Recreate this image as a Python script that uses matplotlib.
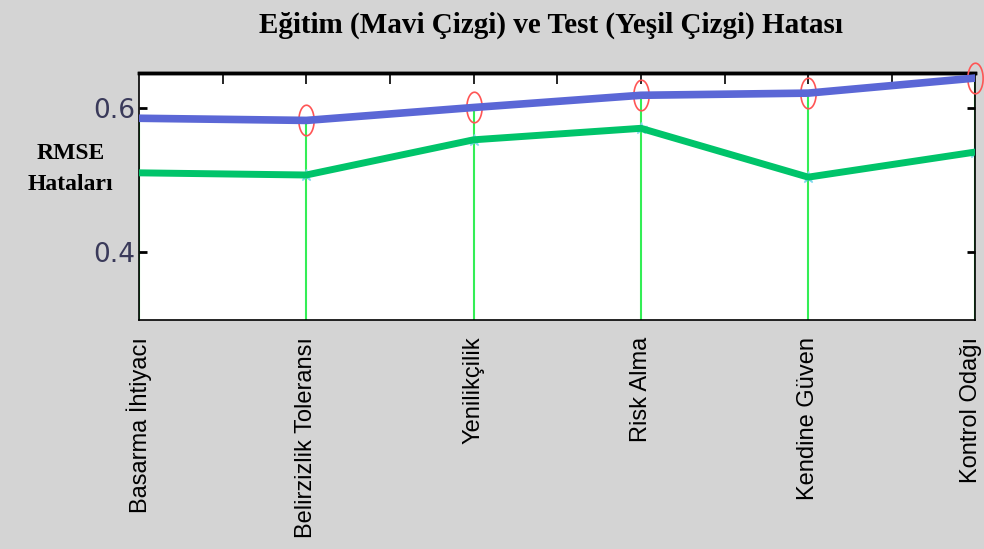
import matplotlib.pyplot as plt
import matplotlib.transforms as mtransforms
import numpy as np

# data
categories = ['Basarma İhtiyacı', 'Belirzizlik Toleransı', 'Yenilikçilik',
              'Risk Alma', 'Kendine Güven', 'Kontrol Odağı']
train_err = [0.586, 0.583, 0.601, 0.618, 0.621, 0.642]
test_err = [0.510, 0.507, 0.556, 0.572, 0.504, 0.539]

bg = '#d4d4d4'
fig = plt.figure(figsize=(9.84, 5.49), dpi=100, facecolor=bg)
ax = fig.add_axes([0.1413, 0.417, 0.850, 0.450])
ax.set_facecolor('white')

x = np.arange(len(categories))

# tall ellipse marker like the red circles
t = np.linspace(0, 2 * np.pi, 40)
ellipse = np.column_stack([0.5 * np.cos(t), np.sin(t)])

# green stems under the points
ax.vlines(x, 0.3, train_err, colors='#33ee55', linewidth=1.5, zorder=1)

ax.plot(x, test_err, color='#00c46a', linewidth=5, zorder=3, solid_capstyle='round')
ax.plot(x[1:], test_err[1:], linestyle='none', marker='*', markersize=9,
        color='#7fd8ee', zorder=2)
ax.plot(x, train_err, color='#5b67d6', linewidth=5.5, zorder=4)
ax.plot(x[1:], train_err[1:], linestyle='none', marker=ellipse, markersize=22,
        markerfacecolor='none', markeredgecolor='#ff5555', markeredgewidth=1.2,
        zorder=3, clip_on=False)

ax.set_xlim(0, 5)
ax.set_ylim(0.305, 0.649)

ax.set_yticks([0.4, 0.6])
ax.set_yticklabels(['0.4', '0.6'], fontsize=19, color='#3a3a5a',
                   family=['DejaVu Sans Condensed', 'DejaVu Sans'])
ax.tick_params(axis='y', direction='in', length=6, width=2, right=True, pad=3)

ax.set_xticks(x)
ax.set_xticklabels(categories, rotation=90, fontsize=17,
                   family=['Liberation Sans', 'DejaVu Sans'], va='top')
ax.tick_params(axis='x', direction='in', length=0, pad=12)
# last label sits at the figure edge, nudge it in a bit
last = ax.get_xticklabels()[-1]
last.set_transform(last.get_transform() +
                   mtransforms.ScaledTranslation(-4 / 100, 0, fig.dpi_scale_trans))

# ticks along the top edge every half category
top = ax.secondary_xaxis('top')
top.set_xticks(np.arange(0.5, 5, 0.5))
top.set_xticklabels([])
top.tick_params(direction='in', length=8, width=1.2)
top.spines['top'].set_linewidth(2.5)

for s in ax.spines.values():
    s.set_linewidth(1.2)
ax.spines['top'].set_linewidth(2.5)

fig.text(0.56, 0.953, 'Eğitim (Mavi Çizgi) ve Test (Yeşil Çizgi) Hatası',
         ha='center', va='center', fontsize=21, fontweight='bold',
         family=['Liberation Serif', 'DejaVu Serif'])
fig.text(0.072, 0.692, 'RMSE\nHataları', ha='center', va='center',
         fontsize=17, fontweight='bold', linespacing=1.6,
         family=['Liberation Serif', 'DejaVu Serif'])

fig.savefig('out.png', dpi=100, facecolor=bg)
